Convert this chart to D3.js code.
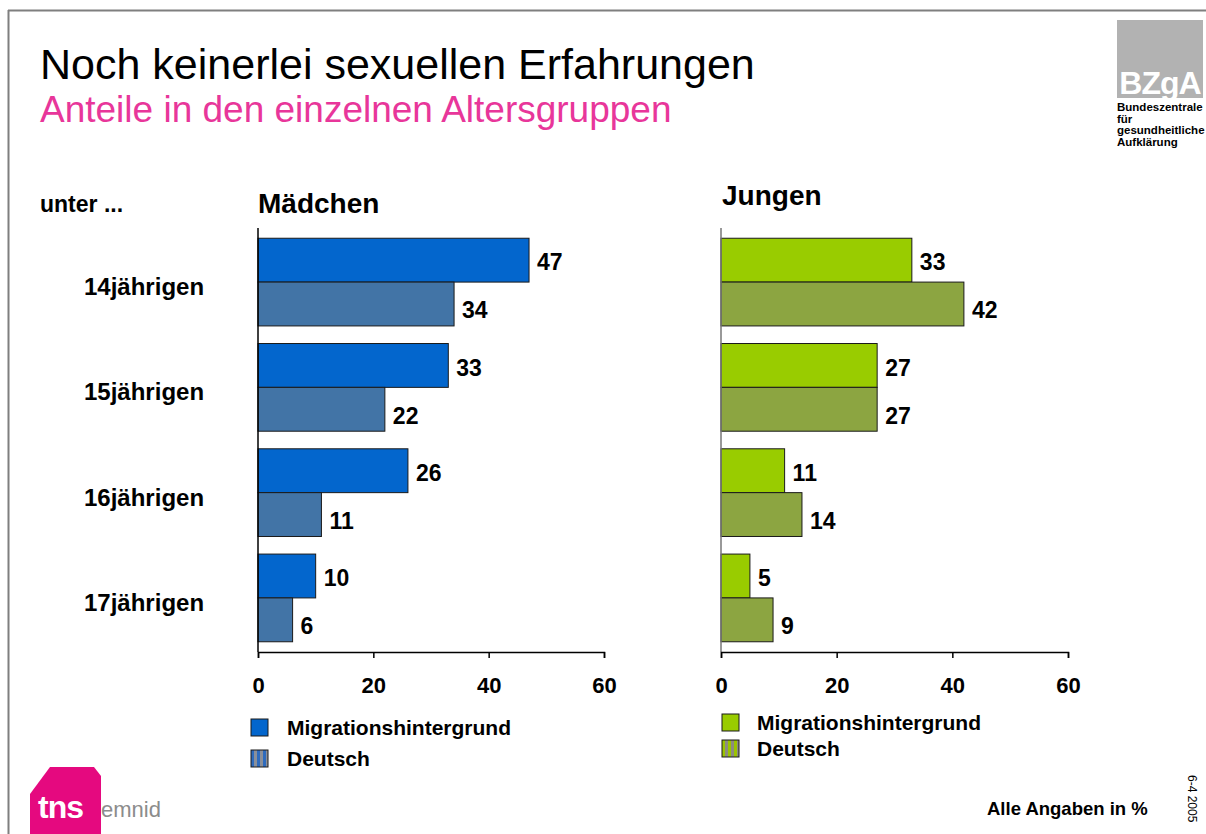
<!DOCTYPE html>
<html>
<head>
<meta charset="utf-8">
<script src="https://cdn.jsdelivr.net/npm/d3@7"></script>
<style>
  body { margin: 0; background: #fff; }
  svg { display: block; font-family: "Liberation Sans", Arial, sans-serif; }
</style>
</head>
<body>
<div id="chart"></div>
<script>
// Data
const categories = ["14jährigen", "15jährigen", "16jährigen", "17jährigen"];
const series = ["Migrationshintergrund", "Deutsch"];
const maedchenMigration = [47, 33, 26, 10];
const maedchenDeutsch = [34, 22, 11, 6];
const jungenMigration = [33, 27, 11, 5];
const jungenDeutsch = [42, 27, 14, 9];
const xTicks = [0, 20, 40, 60];

const W = 1206, H = 834;

const svg = d3.select("#chart")
    .append("svg")
    .attr("width", W)
    .attr("height", H);

// stripe patterns for the "Deutsch" legend boxes
const defs = svg.append("defs");
function stripes(id, c1, c2) {
    const p = defs.append("pattern")
        .attr("id", id)
        .attr("patternUnits", "userSpaceOnUse")
        .attr("width", 6).attr("height", 6);
    p.append("rect").attr("width", 6).attr("height", 6).attr("fill", c1);
    p.append("rect").attr("x", 3).attr("width", 3).attr("height", 6).attr("fill", c2);
}
stripes("stripeBlue", "#2e6bbd", "#8a8f99");
stripes("stripeGreen", "#9bc400", "#8c8c80");

// slide frame
svg.append("line").attr("x1", 8).attr("x2", W).attr("y1", 10.5).attr("y2", 10.5)
    .attr("stroke", "#7f7f7f").attr("stroke-width", 2);
svg.append("line").attr("x1", 8.5).attr("x2", 8.5).attr("y1", 10).attr("y2", H)
    .attr("stroke", "#7f7f7f").attr("stroke-width", 2);

// titles
svg.append("text").attr("x", 40).attr("y", 79)
    .style("font-size", "43px").style("fill", "#000")
    .text("Noch keinerlei sexuellen Erfahrungen");
svg.append("text").attr("x", 40).attr("y", 122)
    .style("font-size", "37px").style("fill", "#e8369a")
    .text("Anteile in den einzelnen Altersgruppen");

// BZgA logo
svg.append("rect").attr("x", 1117).attr("y", 20).attr("width", 86).attr("height", 78)
    .attr("fill", "#b2b2b2");
svg.append("text").attr("x", 1160).attr("y", 94).attr("text-anchor", "middle")
    .style("font-size", "32px").style("font-weight", "bold").style("fill", "#fff")
    .style("letter-spacing", "-1px")
    .text("BZgA");
["Bundeszentrale", "für", "gesundheitliche", "Aufklärung"].forEach((t, i) => {
    svg.append("text").attr("x", 1117).attr("y", 111 + i * 11.7)
        .style("font-size", "11.5px").style("font-weight", "bold")
        .text(t);
});

// bands for the age groups (shared by both panels)
const y = d3.scaleBand()
    .domain(categories)
    .range([229.5, 650.5])
    .paddingInner(0.167)
    .paddingOuter(0.083);
const ySub = d3.scaleBand()
    .domain(series)
    .range([0, y.bandwidth()]);

svg.append("text").attr("x", 40).attr("y", 212)
    .style("font-size", "23px").style("font-weight", "bold")
    .text("unter ...");

svg.selectAll(".cat")
    .data(categories)
    .enter()
    .append("text")
    .attr("class", "cat")
    .attr("x", 84)
    .attr("y", d => y(d) + y.bandwidth() / 2 + 13)
    .style("font-size", "24px").style("font-weight", "bold")
    .text(d => d);

function panel(opt) {
    const x = d3.scaleLinear().domain([0, 60]).range([opt.x0, opt.x1]);
    const g = svg.append("g");
    const axisY = 652;

    g.append("text").attr("x", opt.titleX).attr("y", opt.titleY)
        .style("font-size", "28px").style("font-weight", "bold")
        .text(opt.title);

    const rows = categories.map((c, i) => ({
        cat: c, values: [opt.mig[i], opt.deu[i]]
    }));

    const grp = g.selectAll(".grp")
        .data(rows)
        .enter()
        .append("g")
        .attr("transform", d => `translate(0,${y(d.cat)})`);

    const bars = grp.selectAll("g")
        .data(d => d.values.map((v, j) => ({ s: series[j], v })))
        .enter()
        .append("g");

    bars.append("rect")
        .attr("x", x(0))
        .attr("y", d => ySub(d.s))
        .attr("width", d => x(d.v) - x(0))
        .attr("height", ySub.bandwidth())
        .attr("fill", d => d.s === series[0] ? opt.c1 : opt.c2)
        .attr("stroke", "#1a1a1a")
        .attr("stroke-width", 1);

    // labels of the lower bar sit a little below its middle, as on the slide
    bars.append("text")
        .attr("x", d => x(d.v) + 8)
        .attr("y", d => ySub(d.s) + ySub.bandwidth() / 2 + (d.s === series[0] ? 2 : 6))
        .attr("dy", "0.36em")
        .style("font-size", "23px").style("font-weight", "bold")
        .text(d => d.v);

    // vertical base line
    g.append("line")
        .attr("x1", x(0)).attr("x2", x(0))
        .attr("y1", 228).attr("y2", axisY)
        .attr("stroke", opt.baseColor).attr("stroke-width", 1.5);

    // bottom axis
    const ax = g.append("g")
        .attr("transform", `translate(0,${axisY})`)
        .call(d3.axisBottom(x).tickValues(xTicks).tickSize(6).tickPadding(19));
    ax.select(".domain").attr("stroke", "#000").attr("stroke-width", 1.5);
    ax.selectAll(".tick line").attr("stroke", "#000").attr("stroke-width", 1.5);
    ax.selectAll("text")
        .style("font-size", "22px").style("font-weight", "bold")
        .style("font-family", "'Liberation Sans', Arial, sans-serif")
        .attr("fill", "#000");

    // legend
    const lg = g.selectAll(".lg")
        .data(series)
        .enter()
        .append("g")
        .attr("transform", (d, i) => `translate(${opt.legX},${opt.legY + i * opt.legStep})`);
    lg.append("rect")
        .attr("width", 17).attr("height", 17)
        .attr("fill", (d, i) => i === 0 ? opt.c1 : opt.stripe)
        .attr("stroke", "#1a1a1a").attr("stroke-width", 1);
    lg.append("text")
        .attr("x", opt.legTextDx).attr("y", 16)
        .style("font-size", "21px").style("font-weight", "bold")
        .text(d => d);
}

panel({
    title: "Mädchen", titleX: 258, titleY: 213,
    x0: 258, x1: 604,
    mig: maedchenMigration, deu: maedchenDeutsch,
    c1: "#0366cd", c2: "#4274a6", stripe: "url(#stripeBlue)",
    baseColor: "#000",
    legX: 251, legY: 719, legStep: 31, legTextDx: 36
});

panel({
    title: "Jungen", titleX: 722, titleY: 205,
    x0: 721, x1: 1068,
    mig: jungenMigration, deu: jungenDeutsch,
    c1: "#99cc00", c2: "#8ca541", stripe: "url(#stripeGreen)",
    baseColor: "#777",
    legX: 722, legY: 714, legStep: 26, legTextDx: 35
});

// tns emnid logo
svg.append("path")
    .attr("d", "M30,794 L50,767 L94,767 L101,776 L101,834 L30,834 Z")
    .attr("fill", "#e5097f");
svg.append("text").attr("x", 38).attr("y", 818)
    .style("font-size", "32px").style("font-weight", "bold").style("fill", "#fff")
    .style("letter-spacing", "-1px")
    .text("tns");
svg.append("text").attr("x", 101).attr("y", 817)
    .style("font-size", "22px").style("fill", "#8c8c8c")
    .style("font-family", "'Liberation Sans Narrow', 'Liberation Sans', Arial, sans-serif")
    .text("emnid");

// footer
svg.append("text").attr("x", 987).attr("y", 815)
    .style("font-size", "18.5px").style("font-weight", "bold")
    .text("Alle Angaben in %");
svg.append("text")
    .attr("transform", "translate(1188,775) rotate(90)")
    .style("font-size", "12px")
    .text("6-4 2005");
</script>
</body>
</html>
